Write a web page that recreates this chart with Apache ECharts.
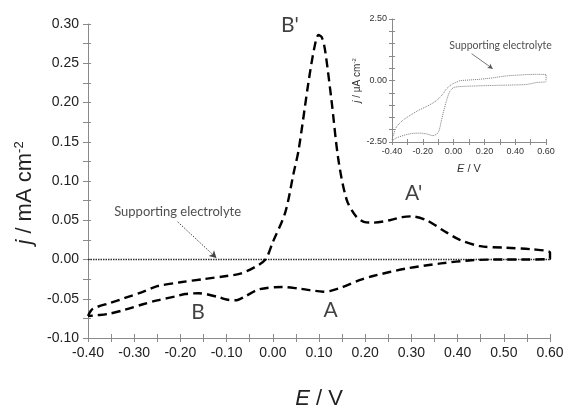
<!DOCTYPE html>
<html>
<head>
<meta charset="utf-8">
<script src="https://cdn.jsdelivr.net/npm/echarts@6/dist/echarts.min.js"></script>
<style>html,body{margin:0;padding:0;background:#fff}#c{width:569px;height:407px}</style>
</head>
<body>
<div id="c"></div>
<script>
// ---- main CV (anodic sweep, then cathodic sweep) ----
const fwdE = [-0.40,-0.39,-0.35,-0.32,-0.28,-0.25,-0.20,-0.15,-0.10,-0.07,-0.04,-0.016,0.00,0.027,0.045,0.056,0.077,0.090,0.099,0.106,0.113,0.127,0.142,0.160,0.180,0.197,0.217,0.253,0.280,0.300,0.333,0.369,0.405,0.449,0.503,0.561,0.600];
const fwdJ = [-0.072,-0.063,-0.055,-0.049,-0.041,-0.034,-0.029,-0.025,-0.021,-0.018,-0.010,0.000,0.022,0.060,0.110,0.140,0.225,0.270,0.286,0.283,0.267,0.203,0.127,0.076,0.055,0.048,0.047,0.050,0.054,0.055,0.050,0.037,0.025,0.017,0.015,0.013,0.009];
const revE = [0.600,0.550,0.500,0.430,0.364,0.289,0.217,0.189,0.152,0.125,0.109,0.080,0.056,0.020,-0.030,-0.060,-0.081,-0.100,-0.117,-0.160,-0.190,-0.211,-0.250,-0.281,-0.320,-0.353,-0.380,-0.400];
const revJ = [0.001,0.000,0.000,-0.001,-0.005,-0.0115,-0.021,-0.026,-0.035,-0.040,-0.041,-0.039,-0.037,-0.035,-0.038,-0.047,-0.052,-0.051,-0.048,-0.043,-0.044,-0.047,-0.052,-0.057,-0.064,-0.069,-0.071,-0.072];
// supporting electrolyte (main panel, mA cm-2)
const seE = [-0.40, 0.60];
const seJ = [0.000, 0.000];
// peak labels
const peakE = [0.037, 0.305, -0.162, 0.125];
const peakJ = [0.299, 0.084, -0.067, -0.065];
const peakText = ["B'", "A'", "B", "A"];
// annotation "Supporting electrolyte" (main)
const seLabelE = -0.206, seLabelJ = 0.061;
const seArrowE = [-0.206, -0.122];
const seArrowJ = [0.048, 0.002];

// ---- inset: supporting electrolyte CV (µA cm-2) ----
const inFwdE = [-0.40,-0.372,-0.33,-0.285,-0.23,-0.177,-0.112,-0.07,-0.046,-0.01,0.019,0.04,0.10,0.149,0.20,0.257,0.31,0.366,0.42,0.474,0.54,0.60];
const inFwdJ = [-2.40,-1.90,-1.62,-1.43,-1.22,-1.06,-0.82,-0.55,-0.34,-0.15,-0.07,-0.01,0.02,0.04,0.07,0.11,0.16,0.20,0.22,0.24,0.25,0.24];
const inRevE = [0.60,0.54,0.474,0.40,0.257,0.15,0.06,0.02,-0.003,-0.025,-0.046,-0.065,-0.079,-0.10,-0.133,-0.177,-0.22,-0.263,-0.30,-0.328,-0.37,-0.40];
const inRevJ = [-0.04,-0.08,-0.16,-0.18,-0.20,-0.22,-0.24,-0.26,-0.30,-0.45,-0.82,-1.25,-1.63,-2.11,-2.24,-2.17,-2.14,-2.15,-2.19,-2.24,-2.33,-2.45];
const inLabelE = 0.305, inLabelJ = 1.43;
const inArrowE = [0.117, 0.254];
const inArrowJ = [1.09, 0.48];

// ---- tick labels ----
const mainXLabelStep = 0.1, mainYLabelStep = 0.05;
const insetXLabelStep = 0.2, insetYLabelStep = 2.5;

function pairs(xs, ys){ return xs.map((x,i)=>[x, ys[i]]); }
function fmtStep(step){
  return function(v){
    const r = v/step;
    if (Math.abs(r - Math.round(r)) > 1e-6) return '';
    if (Math.abs(v) < 1e-9) v = 0;
    return v.toFixed(2);
  };
}

const cvData = pairs(fwdE, fwdJ).concat(pairs(revE, revJ));
const inData = pairs(inFwdE, inFwdJ).concat(pairs(inRevE, inRevJ));

const axisGray = '#8a8a8a';
const FONT = '"Liberation Sans", Arial, sans-serif';
const hiddenLine = {show:false, onZero:false};

const chart = echarts.init(document.getElementById('c'), null, {renderer:'canvas'});
chart.setOption({
  animation: false,
  backgroundColor: '#fff',
  grid: [
    {left: 88, right: 19, top: 24, bottom: 69, containLabel:false, outerBoundsMode:'none'},
    {left: 392, right: 23, top: 19, bottom: 265, containLabel:false, outerBoundsMode:'none'}
  ],
  xAxis: [
    {gridIndex:0, type:'value', min:-0.4, max:0.6, interval:0.05,
     axisLine:{onZero:false, lineStyle:{color:axisGray, width:1}},
     axisTick:{inside:false, length:4, lineStyle:{color:axisGray}},
     splitLine:{show:false},
     axisLabel:{formatter: fmtStep(mainXLabelStep), color:'#222', fontSize:14, fontFamily:FONT, margin:8, showMinLabel:true, showMaxLabel:true},
     name:'{i|E} / V', nameLocation:'middle', nameGap:50,
     nameTextStyle:{fontSize:22, fontFamily:FONT, color:'#222', rich:{i:{fontStyle:'italic', fontSize:22, fontFamily:FONT, color:'#222'}}}
    },
    {gridIndex:0, type:'value', min:-0.4, max:0.6, interval:0.05, position:'bottom',
     axisLine:hiddenLine, axisLabel:{show:false}, splitLine:{show:false},
     axisTick:{inside:true, length:4, lineStyle:{color:axisGray}}},
    {gridIndex:1, type:'value', min:-0.4, max:0.6, interval:0.1,
     axisLine:{onZero:false, lineStyle:{color:axisGray, width:1}},
     axisTick:{inside:false, length:3, lineStyle:{color:axisGray}},
     splitLine:{show:false},
     axisLabel:{formatter: fmtStep(insetXLabelStep), color:'#333', fontSize:9, fontFamily:FONT, margin:5},
     name:'{i|E} / V', nameLocation:'middle', nameGap:21,
     nameTextStyle:{fontSize:11, fontFamily:FONT, color:'#333', rich:{i:{fontStyle:'italic', fontSize:11, fontFamily:FONT, color:'#333'}}}
    },
    {gridIndex:1, type:'value', min:-0.4, max:0.6, interval:0.1, position:'bottom',
     axisLine:hiddenLine, axisLabel:{show:false}, splitLine:{show:false},
     axisTick:{inside:true, length:3, lineStyle:{color:axisGray}}}
  ],
  yAxis: [
    {gridIndex:0, type:'value', min:-0.1, max:0.3, interval:0.025,
     axisLine:{show:true, onZero:false, lineStyle:{color:axisGray, width:1}},
     axisTick:{show:true, inside:false, length:5, lineStyle:{color:axisGray}},
     splitLine:{show:false},
     axisLabel:{formatter: fmtStep(mainYLabelStep), color:'#222', fontSize:14, fontFamily:FONT, margin:9},
     name:'{i|j} / mA cm{s|-2}', nameLocation:'middle', nameGap:41, nameRotate:90,
     nameTextStyle:{fontSize:22, fontFamily:FONT, color:'#222', padding:[0,24,0,0],
       rich:{i:{fontStyle:'italic', fontSize:22, fontFamily:FONT, color:'#222'},
             s:{fontSize:13, fontFamily:FONT, color:'#222', padding:[0,0,12,0]}}}
    },
    {gridIndex:0, type:'value', min:-0.1, max:0.3, interval:0.025, position:'left',
     axisLine:hiddenLine, axisLabel:{show:false}, splitLine:{show:false},
     axisTick:{show:true, inside:true, length:3, lineStyle:{color:axisGray}}},
    {gridIndex:1, type:'value', min:-2.5, max:2.5, interval:0.5,
     axisLine:{show:true, onZero:false, lineStyle:{color:axisGray, width:1}},
     axisTick:{show:true, inside:false, length:3, lineStyle:{color:axisGray}},
     splitLine:{show:false},
     axisLabel:{formatter: fmtStep(insetYLabelStep), color:'#333', fontSize:9, fontFamily:FONT, margin:5},
     name:'{i|j} / μA cm{s|-2}', nameLocation:'middle', nameGap:24, nameRotate:90,
     nameTextStyle:{fontSize:10, fontFamily:FONT, color:'#333',
       rich:{i:{fontStyle:'italic', fontSize:10, fontFamily:FONT, color:'#333'},
             s:{fontSize:6, fontFamily:FONT, color:'#333', padding:[0,0,6,0]}}}
    },
    {gridIndex:1, type:'value', min:-2.5, max:2.5, interval:0.5, position:'left',
     axisLine:hiddenLine, axisLabel:{show:false}, splitLine:{show:false},
     axisTick:{show:true, inside:true, length:3, lineStyle:{color:axisGray}}}
  ],
  series: [
    {type:'line', name:'Supporting electrolyte', xAxisIndex:0, yAxisIndex:0,
     data: pairs(seE, seJ), showSymbol:false, symbol:'none',
     lineStyle:{color:'#333', width:1.6, type:[1.5,1]},
     markLine:{silent:true, symbol:['none','arrow'], symbolSize:[6,7], label:{show:false},
       lineStyle:{color:'#444', width:1, type:[1.5,1.5]},
       data:[[{coord:[seArrowE[0], seArrowJ[0]]},{coord:[seArrowE[1], seArrowJ[1]]}]]}
    },
    {type:'line', name:'CV', xAxisIndex:0, yAxisIndex:0,
     data: cvData, showSymbol:false, symbol:'none', smooth:0.3,
     lineStyle:{color:'#000', width:2.4, type:[9,5]}},
    {type:'scatter', xAxisIndex:0, yAxisIndex:0, symbolSize:0,
     data: peakE.map((e,i)=>[e, peakJ[i], peakText[i]]),
     label:{show:true, position:'inside', formatter:p=>p.data[2], fontSize:21, fontFamily:'Lato, "Open Sans", sans-serif', color:'#111'}},
    {type:'scatter', xAxisIndex:0, yAxisIndex:0, symbolSize:0,
     data: [[seLabelE, seLabelJ, 'Supporting electrolyte']],
     label:{show:true, position:'inside', formatter:p=>p.data[2], fontSize:13, fontFamily:'Lato, "Open Sans", sans-serif', color:'#222'}},
    {type:'line', xAxisIndex:2, yAxisIndex:2,
     data: inData, showSymbol:false, symbol:'none', smooth:0.3,
     lineStyle:{color:'#777', width:1, type:[1,1]},
     markLine:{silent:true, symbol:['none','arrow'], symbolSize:[4,5], label:{show:false},
       lineStyle:{color:'#555', width:0.8, type:'solid'},
       data:[[{coord:[inArrowE[0], inArrowJ[0]]},{coord:[inArrowE[1], inArrowJ[1]]}]]}
    },
    {type:'scatter', xAxisIndex:2, yAxisIndex:2, symbolSize:0,
     data: [[inLabelE, inLabelJ, 'Supporting electrolyte']],
     label:{show:true, position:'inside', formatter:p=>p.data[2], fontSize:10.5, fontFamily:'Lato, "Open Sans", sans-serif', color:'#222'}}
  ]
});
</script>
</body>
</html>
